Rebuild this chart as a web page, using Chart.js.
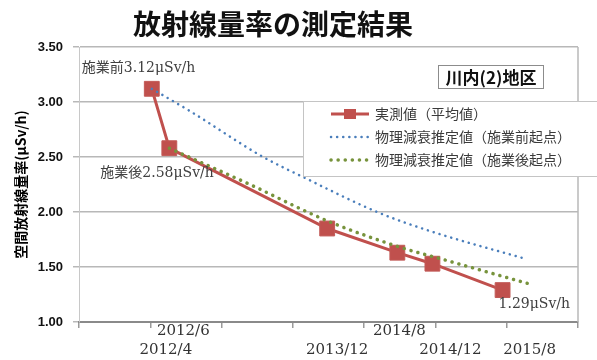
<!DOCTYPE html>
<html lang="ja">
<head>
<meta charset="utf-8">
<title>放射線量率の測定結果</title>
<script src="https://cdn.jsdelivr.net/npm/chart.js@4.4.1/dist/chart.umd.min.js"></script>
<style>
  html, body { margin: 0; padding: 0; background: #fff; }
  canvas { display: block; }
</style>
</head>
<body>
<canvas id="out" width="597" height="360"></canvas>
<script>
// measured averages (μSv/h)
const measuredDates = ['2012/4', '2012/6', '2013/12', '2014/8', '2014/12', '2015/8'];
const measuredValues = [3.12, 2.58, 1.85, 1.63, 1.53, 1.29];
const measuredNotes = ['施業前', '施業後', null, null, null, ''];

// physical decay estimates, x in months counted from 2012/4
const decayBeforeMonths = [0, 4.3, 12.7, 17.2, 26, 32, 42.8];
const decayBeforeValues = [3.12, 2.92, 2.50, 2.32, 1.99, 1.82, 1.57];
const decayAfterMonths = [2, 12, 17.2, 20.6, 28.3, 33.6, 43.1];
const decayAfterValues = [2.58, 2.22, 2.02, 1.90, 1.68, 1.56, 1.345];

const seriesNames = ['実測値（平均値）', '物理減衰推定値（施業前起点）', '物理減衰推定値（施業後起点）'];
const yTicks = [1.0, 1.5, 2.0, 2.5, 3.0, 3.5];

const chartTitle = '放射線量率の測定結果';
const yTitle = '空間放射線量率(μSv/h)';
const regionName = '川内(2)地区';

const SANS = '"Noto Sans CJK JP", "Noto Sans", sans-serif';
const SERIF = '"DejaVu Serif", "Noto Sans CJK JP", serif';

function toMonth(s) {
  const [y, m] = s.split('/').map(Number);
  return (y - 2012) * 12 + (m - 4);
}

const pairs = (xs, ys) => xs.map((x, i) => ({x: x, y: ys[i]}));

const decorations = {
  id: 'decorations',
  afterDatasetsDraw(chart) {
    const {ctx, chartArea: area, scales: {x, y}} = chart;
    ctx.save();

    // right frame of the plot
    ctx.strokeStyle = '#b8b8b8';
    ctx.lineWidth = 1.5;
    ctx.beginPath();
    ctx.moveTo(area.right, area.top);
    ctx.lineTo(area.right, area.bottom);
    ctx.stroke();

    // staggered date labels under the axis
    const nudge = [14, 14, 10, 2, 18, 27];
    ctx.font = '15px ' + SERIF;
    ctx.fillStyle = '#333';
    ctx.textAlign = 'center';
    ctx.textBaseline = 'middle';
    measuredDates.forEach((d, i) => {
      const upper = i === 1 || i === 3;
      ctx.fillText(d, x.getPixelForValue(toMonth(d)) + nudge[i], upper ? area.bottom + 9 : area.bottom + 28);
    });

    // value notes next to the measured points
    const noteOffset = {0: [-70, -20], 1: [-69, 25], 5: [-4, 14]};
    ctx.font = '14px ' + SERIF;
    ctx.fillStyle = '#404040';
    ctx.textAlign = 'left';
    measuredNotes.forEach((note, i) => {
      if (note === null) return;
      const px = x.getPixelForValue(toMonth(measuredDates[i]));
      const py = y.getPixelForValue(measuredValues[i]);
      const [dx, dy] = noteOffset[i];
      ctx.fillText(note + measuredValues[i].toFixed(2) + 'μSv/h', px + dx, py + dy);
    });

    // region name box
    ctx.fillStyle = '#fff';
    ctx.fillRect(438, 65, 105, 23);
    ctx.strokeStyle = '#8c8c8c';
    ctx.lineWidth = 1;
    ctx.strokeRect(438.5, 65.5, 105, 23);
    ctx.fillStyle = '#111';
    ctx.font = 'bold 17px ' + SANS;
    ctx.textAlign = 'center';
    ctx.fillText(regionName, 491, 77.5);

    // legend
    ctx.fillStyle = '#fff';
    ctx.fillRect(303, 101, 300, 75);
    ctx.strokeStyle = '#c4c4c4';
    ctx.strokeRect(303.5, 101.5, 300, 75);
    ctx.font = '14px ' + SANS;
    ctx.textAlign = 'left';
    chart.data.datasets.forEach((ds, i) => {
      const ly = 114 + i * 23;
      ctx.save();
      ctx.strokeStyle = ds.borderColor;
      ctx.lineWidth = ds.borderWidth;
      ctx.lineCap = ds.borderDash ? 'round' : 'butt';
      ctx.setLineDash(ds.borderDash || []);
      ctx.beginPath();
      ctx.moveTo(331, ly);
      ctx.lineTo(369, ly);
      ctx.stroke();
      if (ds.pointStyle === 'rect') {
        ctx.fillStyle = ds.backgroundColor;
        ctx.fillRect(344, ly - 5, 12, 10);
      }
      ctx.restore();
      ctx.fillStyle = '#3a3a3a';
      ctx.fillText(ds.label, 375, ly);
    });

    ctx.restore();
  },
  afterDraw(chart) {
    const {ctx} = chart;
    ctx.save();
    ctx.font = 'bold 28px ' + SANS;
    ctx.fillStyle = '#111';
    ctx.textAlign = 'center';
    ctx.textBaseline = 'middle';
    ctx.fillText(chartTitle, 273, 24);
    ctx.restore();
  }
};

const ctx = document.getElementById('out').getContext('2d');

const chartConfig = {
  type: 'line',
  data: {
    datasets: [
      {
        label: seriesNames[0],
        data: pairs(measuredDates.map(toMonth), measuredValues),
        borderColor: '#c0504d',
        backgroundColor: '#c0504d',
        borderWidth: 3,
        pointStyle: 'rect',
        pointRadius: 10.5,
        pointBorderWidth: 1,
        pointBorderColor: '#c25a57',
        order: 3
      },
      {
        label: seriesNames[1],
        data: pairs(decayBeforeMonths, decayBeforeValues),
        borderColor: '#4a7ebb',
        borderWidth: 2.5,
        borderDash: [0.1, 6],
        borderCapStyle: 'round',
        pointRadius: 0,
        cubicInterpolationMode: 'monotone',
        order: 1
      },
      {
        label: seriesNames[2],
        data: pairs(decayAfterMonths, decayAfterValues),
        borderColor: '#77933c',
        borderWidth: 3.5,
        borderDash: [0.1, 7],
        borderCapStyle: 'round',
        pointRadius: 0,
        cubicInterpolationMode: 'monotone',
        order: 2
      }
    ]
  },
  options: {
    responsive: false,
    animation: false,
    devicePixelRatio: 1,
    layout: {padding: {top: 47, right: 19, left: 0, bottom: 0}},
    plugins: {
      legend: {display: false},
      tooltip: {enabled: false},
      title: {display: false}
    },
    scales: {
      x: {
        type: 'linear',
        min: -8.3,
        max: 48.6,
        afterBuildTicks: (scale) => {
          const step = (scale.max - scale.min) / 7;
          scale.ticks = Array.from({length: 8}, (_, i) => ({value: scale.min + i * step}));
        },
        afterFit: (scale) => { scale.height = 38; },
        ticks: {display: false},
        grid: {drawOnChartArea: false, tickLength: 6, color: '#9a9a9a', lineWidth: 1.5},
        border: {color: '#8a8a8a', width: 2}
      },
      y: {
        min: 1,
        max: 3.5,
        afterBuildTicks: (scale) => { scale.ticks = yTicks.map(v => ({value: v})); },
        afterFit: (scale) => { scale.width = 79; },
        ticks: {
          padding: 10,
          color: '#111',
          font: {family: '"Liberation Sans", Arial, sans-serif', size: 13, weight: 'bold'},
          callback: (v) => Number(v).toFixed(2)
        },
        grid: {color: '#b8b8b8', lineWidth: 1.5, tickLength: 6},
        border: {color: '#c8c8c8', width: 1},
        title: {
          display: true,
          text: yTitle,
          color: '#000',
          font: {family: SANS, size: 14, weight: 'bold'},
          padding: {top: 12, bottom: 0}
        }
      }
    }
  },
  plugins: [decorations]
};

window.chart = new Chart(ctx, chartConfig);
</script>
</body>
</html>
